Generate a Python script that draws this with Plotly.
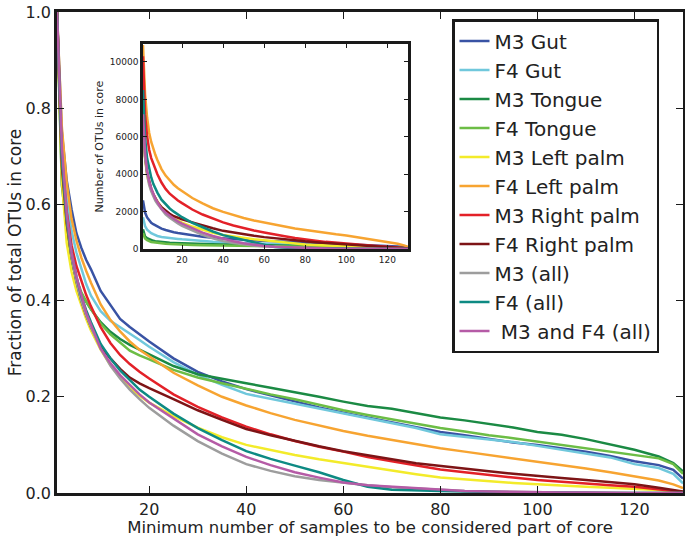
import plotly.graph_objects as go

# ---- data ----
min_samples = [1, 2, 3, 4, 5, 6, 7, 8, 10, 12, 14, 16, 18, 20, 25, 30, 35, 40, 45, 50, 55, 60,
               65, 70, 75, 80, 85, 90, 95, 100, 105, 110, 115, 120, 125, 128, 130]

series_names = ["M3 Gut", "F4 Gut", "M3 Tongue", "F4 Tongue", "M3 Left palm", "F4 Left palm",
                "M3 Right palm", "F4 Right palm", "M3 (all)", "F4 (all)", " M3 and F4 (all)"]

m3_gut = [1.0, 0.75, 0.65, 0.59, 0.54, 0.51, 0.485, 0.465, 0.42, 0.39, 0.362, 0.345, 0.33, 0.315, 0.28, 0.252,
          0.232, 0.216, 0.203, 0.19, 0.178, 0.167, 0.157, 0.148, 0.138, 0.127, 0.12, 0.112, 0.105, 0.1, 0.093,
          0.086, 0.077, 0.066, 0.058, 0.048, 0.03]
f4_gut = [1.0, 0.72, 0.61, 0.545, 0.5, 0.465, 0.435, 0.41, 0.378, 0.358, 0.345, 0.332, 0.318, 0.304, 0.272, 0.246,
          0.225, 0.206, 0.196, 0.186, 0.176, 0.166, 0.156, 0.146, 0.135, 0.122, 0.117, 0.111, 0.106, 0.098, 0.09,
          0.083, 0.074, 0.06, 0.052, 0.04, 0.02]
m3_tongue = [1.0, 0.64, 0.55, 0.5, 0.44, 0.415, 0.398, 0.382, 0.355, 0.335, 0.32, 0.308, 0.298, 0.288, 0.264, 0.247,
             0.237, 0.228, 0.219, 0.21, 0.2, 0.19, 0.181, 0.175, 0.166, 0.157, 0.151, 0.144, 0.136, 0.127, 0.121,
             0.112, 0.101, 0.09, 0.076, 0.062, 0.045]
f4_tongue = [1.0, 0.66, 0.55, 0.48, 0.445, 0.418, 0.398, 0.382, 0.352, 0.33, 0.312, 0.296, 0.286, 0.278, 0.256, 0.24,
             0.228, 0.216, 0.205, 0.195, 0.183, 0.172, 0.162, 0.153, 0.143, 0.135, 0.128, 0.12, 0.114, 0.107, 0.1,
             0.094, 0.087, 0.08, 0.072, 0.06, 0.04]
m3_left_palm = [1.0, 0.65, 0.52, 0.46, 0.42, 0.39, 0.362, 0.338, 0.298, 0.266, 0.24, 0.218, 0.202, 0.188, 0.16, 0.136,
                0.116, 0.1, 0.089, 0.079, 0.07, 0.062, 0.054, 0.047, 0.039, 0.032, 0.028, 0.024, 0.021, 0.018, 0.015,
                0.013, 0.011, 0.009, 0.006, 0.003, 0.001]
f4_left_palm = [1.0, 0.76, 0.645, 0.57, 0.525, 0.49, 0.462, 0.437, 0.392, 0.36, 0.336, 0.315, 0.298, 0.284, 0.25, 0.224,
                0.2, 0.182, 0.166, 0.152, 0.14, 0.129, 0.119, 0.11, 0.101, 0.093, 0.086, 0.079, 0.072, 0.066, 0.058,
                0.051, 0.043, 0.035, 0.026, 0.018, 0.01]
m3_right_palm = [1.0, 0.7, 0.585, 0.515, 0.472, 0.44, 0.412, 0.388, 0.345, 0.312, 0.287, 0.268, 0.252, 0.238, 0.205,
                 0.179, 0.157, 0.138, 0.122, 0.108, 0.096, 0.086, 0.075, 0.066, 0.057, 0.049, 0.043, 0.037, 0.032,
                 0.027, 0.023, 0.02, 0.016, 0.013, 0.008, 0.005, 0.002]
f4_right_palm = [1.0, 0.68, 0.56, 0.49, 0.44, 0.4, 0.37, 0.345, 0.305, 0.28, 0.258, 0.24, 0.228, 0.218, 0.195, 0.172,
                 0.152, 0.133, 0.12, 0.108, 0.097, 0.087, 0.078, 0.07, 0.062, 0.056, 0.05, 0.045, 0.04, 0.035, 0.031,
                 0.027, 0.022, 0.018, 0.011, 0.007, 0.003]
m3_all = [1.0, 0.7, 0.57, 0.49, 0.44, 0.4, 0.37, 0.345, 0.3, 0.265, 0.238, 0.215, 0.195, 0.177, 0.14, 0.108, 0.082,
          0.06, 0.046, 0.035, 0.027, 0.021, 0.016, 0.012, 0.009, 0.006, 0.004, 0.003, 0.002, 0.002, 0.001, 0.001,
          0.0, 0.0, 0.0, 0.0, 0.0]
f4_all = [1.0, 0.7, 0.57, 0.5, 0.45, 0.41, 0.38, 0.355, 0.31, 0.28, 0.255, 0.235, 0.215, 0.2, 0.165, 0.135, 0.11,
          0.087, 0.071, 0.057, 0.043, 0.027, 0.013, 0.007, 0.005, 0.004, 0.003, 0.002, 0.002, 0.001, 0.001, 0.0,
          0.0, 0.0, 0.0, 0.0, 0.0]
m3_f4_all = [1.0, 0.72, 0.58, 0.5, 0.45, 0.41, 0.375, 0.35, 0.3, 0.27, 0.245, 0.225, 0.205, 0.188, 0.155, 0.122,
             0.097, 0.075, 0.058, 0.043, 0.032, 0.022, 0.016, 0.013, 0.009, 0.006, 0.004, 0.003, 0.002, 0.002,
             0.001, 0.001, 0.0, 0.0, 0.0, 0.0, 0.0]

# total number of OTUs for each series (inset value at x = 1)
total_otus = [2600, 1700, 1050, 850, 7500, 10900, 10300, 7300, 7000, 8500, 7200]

colors = ["#3953a4", "#70c8dc", "#1b8a44", "#6cbd45", "#f3eb2a", "#f7a431",
          "#e32128", "#7d1416", "#9d9d9d", "#0d8a83", "#b55ba6"]

main_x_ticks = [20, 40, 60, 80, 100, 120]
main_y_ticks = [0.0, 0.2, 0.4, 0.6, 0.8, 1.0]
inset_y_ticks = [0, 2000, 4000, 6000, 8000, 10000]

fractions = [m3_gut, f4_gut, m3_tongue, f4_tongue, m3_left_palm, f4_left_palm,
             m3_right_palm, f4_right_palm, m3_all, f4_all, m3_f4_all]

# ---- figure ----
W, H = 685, 537
FONT = "DejaVu Sans"
fig = go.Figure()

for name, frac, col in zip(series_names, fractions, colors):
    fig.add_trace(go.Scatter(x=min_samples, y=frac, mode="lines", name=name,
                             legendgroup=name,
                             line=dict(color=col, width=2.5), xaxis="x", yaxis="y"))
for name, frac, col, tot in zip(series_names, fractions, colors, total_otus):
    fig.add_trace(go.Scatter(x=min_samples, y=[f * tot for f in frac], mode="lines", name=name,
                             showlegend=False, legendgroup=name,
                             line=dict(color=col, width=2.5), xaxis="x2", yaxis="y2"))

def px_x(p):
    return p / W

def px_y(p):
    return (H - p) / H

axis_common = dict(showline=True, linecolor="#1a1a1a", linewidth=2.5, mirror="ticks",
                   ticks="inside", tickcolor="#1a1a1a", showgrid=False, zeroline=False,
                   automargin=False)

fig.update_layout(
    width=W, height=H,
    margin=dict(l=0, r=0, t=0, b=0, autoexpand=False),
    paper_bgcolor="white", plot_bgcolor="white",
    font=dict(family=FONT, color="#222222"),
    showlegend=True,
    legend=dict(x=px_x(452), y=px_y(19), xanchor="left", yanchor="top",
                bgcolor="white", bordercolor="#1a1a1a", borderwidth=2.5,
                font=dict(family=FONT, size=20, color="#222222"),
                tracegroupgap=3, traceorder="normal", itemwidth=30),
    xaxis=dict(domain=[px_x(57), px_x(683)], range=[1, 130], tickvals=main_x_ticks,
               ticklen=7, tickfont=dict(size=16),
               title=dict(text="Minimum number of samples to be considered part of core",
                          font=dict(size=16.5), standoff=4),
               **axis_common),
    yaxis=dict(domain=[px_y(493), px_y(12)], range=[0, 1], tickvals=main_y_ticks,
               tickformat=".1f", ticklen=7, tickfont=dict(size=16),
               title=dict(text="Fraction of total OTUs in core", font=dict(size=17), standoff=0),
               **axis_common),
    xaxis2=dict(domain=[px_x(143), px_x(408)], range=[1, 130], tickvals=main_x_ticks,
                ticklen=4, tickfont=dict(size=9), anchor="y2",
                **axis_common),
    yaxis2=dict(domain=[px_y(249), px_y(44)], range=[0, 10960], tickvals=inset_y_ticks,
                tickformat="d", ticklen=4, tickfont=dict(size=9), anchor="x2",
                title=dict(text="Number of OTUs in core", font=dict(size=11), standoff=4),
                **axis_common),
)

# remove the default 8px page margin so the figure fills the window exactly
fig.write_html("out.html", config={"displayModeBar": False},
               post_script="document.body.style.margin='0px';")
